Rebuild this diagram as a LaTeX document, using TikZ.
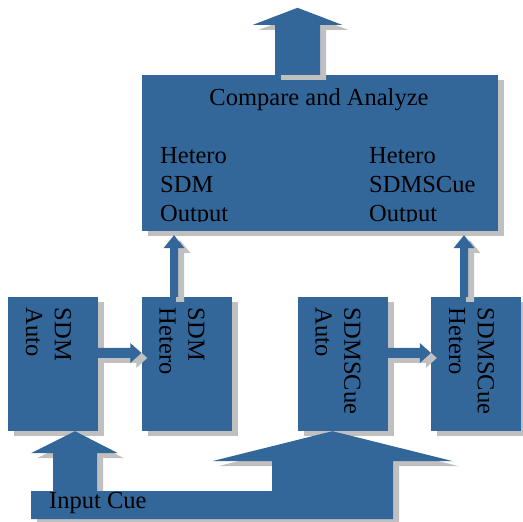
\documentclass[tikz,border=0pt]{standalone}
\usepackage{fontspec}
\setmainfont{Liberation Serif}
\usetikzlibrary{calc}
\definecolor{cBox}{RGB}{51,102,153}
\definecolor{cShade}{RGB}{192,192,192}

\begin{document}
\begin{tikzpicture}[x=1pt,y=1pt,
  shd/.style={preaction={fill=cShade,transform canvas={shift={(6,-5)}}}},
  blk/.style={fill=cBox,shd,inner sep=0,minimum width=90,minimum height=134},
  txt/.style={font=\fontsize{24.5}{28.7}\selectfont,text=black,inner sep=0,align=left},
  vtxt/.style={txt,rotate=-90,anchor=north west},
  arr/.style={fill=cBox,shd}]
\useasboundingbox (0,0) rectangle (523,522);
% boxes
\node[blk,minimum width=356,minimum height=156] (cmp) at (320,369) {};
\node[blk] (sdmauto) at (53,158) {};
\node[blk] (sdmhet) at (186.5,158) {};
\node[blk] (scueauto) at (342.5,158) {};
\node[blk] (scuehet) at (476,158) {};
% labels
\node[vtxt] (sdmautoT) at ($(sdmauto.north east)+(-27,-11)$) {SDM\\Auto};
\node[vtxt] (sdmhetT) at ($(sdmhet.north east)+(-27,-11)$) {SDM\\Hetero};
\node[vtxt] (scueautoT) at ($(scueauto.north east)+(-27,-11)$) {SDMSCue\\Auto};
\node[vtxt] (scuehetT) at ($(scuehet.north east)+(-27,-11)$) {SDMSCue\\Hetero};
\begin{scope}
\clip ($(cmp.south west)+(0,10)$) rectangle (cmp.north east);
\node[txt,anchor=base] (cmpT) at (319,416) {Compare and Analyze};
\node[txt,anchor=north west] (hsdm) at (160,374.5) {Hetero\\SDM\\Output};
\node[txt,anchor=north west] (hscue) at (369,374.5) {Hetero\\SDMSCue\\Output};
\end{scope}
% auto -> hetero
\path[arr] let \p1=(sdmauto.east), \p2=(sdmhet.west) in
  (\x1,\y1+6) -- (\x2-11,\y1+6) -- (\x2-11,\y1+1) -- (\x2,\y1+11)
  -- (\x2-11,\y1+21) -- (\x2-11,\y1+16) -- (\x1,\y1+16) -- cycle;
\path[arr] let \p1=(scueauto.east), \p2=(scuehet.west) in
  (\x1,\y1+6) -- (\x2-11,\y1+6) -- (\x2-11,\y1+1) -- (\x2,\y1+11)
  -- (\x2-11,\y1+21) -- (\x2-11,\y1+16) -- (\x1,\y1+16) -- cycle;
% hetero -> compare
\path[arr] let \p1=(sdmhet.north), \p2=(cmp.south) in
  (\x1-16.5,\y1) -- (\x1-16.5,\y2-17) -- (\x1-23,\y2-17) -- (\x1-12.5,\y2-4)
  -- (\x1-2,\y2-17) -- (\x1-8.5,\y2-17) -- (\x1-8.5,\y1) -- cycle;
\path[arr] let \p1=(scuehet.north), \p2=(cmp.south) in
  (\x1-16,\y1) -- (\x1-16,\y2-17) -- (\x1-22.5,\y2-17) -- (\x1-12,\y2-4)
  -- (\x1-1.5,\y2-17) -- (\x1-8,\y2-17) -- (\x1-8,\y1) -- cycle;
% compare -> result
\coordinate (result) at ($(cmp.north)+(-22.5,67)$);
\path[arr] ($(cmp.north)+(-45,0)$) -- ++(0,50) -- ++(-22,0) -- (result)
  -- ++(44.5,-17) -- ++(-22,0) -- (cmp.north) -- cycle;
% input cue
\coordinate (cueL) at ($(sdmauto.south)+(22,0)$);
\coordinate (cueR) at ($(scueauto.south)+(-10,0)$);
\path[arr] ($(cueL)+(-44,-88)$) -- ($(cueR)+(60.5,-88)$) -- ($(cueR)+(60.5,-30)$)
  -- ($(cueR)+(120.5,-30)$) -- (cueR) -- ($(cueR)+(-120.5,-30)$)
  -- ($(cueR)+(-60.5,-30)$) -- ($(cueR)+(-60.5,-60)$) -- ($(cueL)+(22,-60)$)
  -- ($(cueL)+(22,-22)$) -- ($(cueL)+(43,-22)$) -- (cueL) -- ($(cueL)+(-44,-22)$)
  -- ($(cueL)+(-22,-22)$) -- ($(cueL)+(-22,-60)$) -- ($(cueL)+(-44,-60)$) -- cycle;
\node[txt,anchor=base west] (cue) at (49,13) {Input Cue};
\end{tikzpicture}
\end{document}
